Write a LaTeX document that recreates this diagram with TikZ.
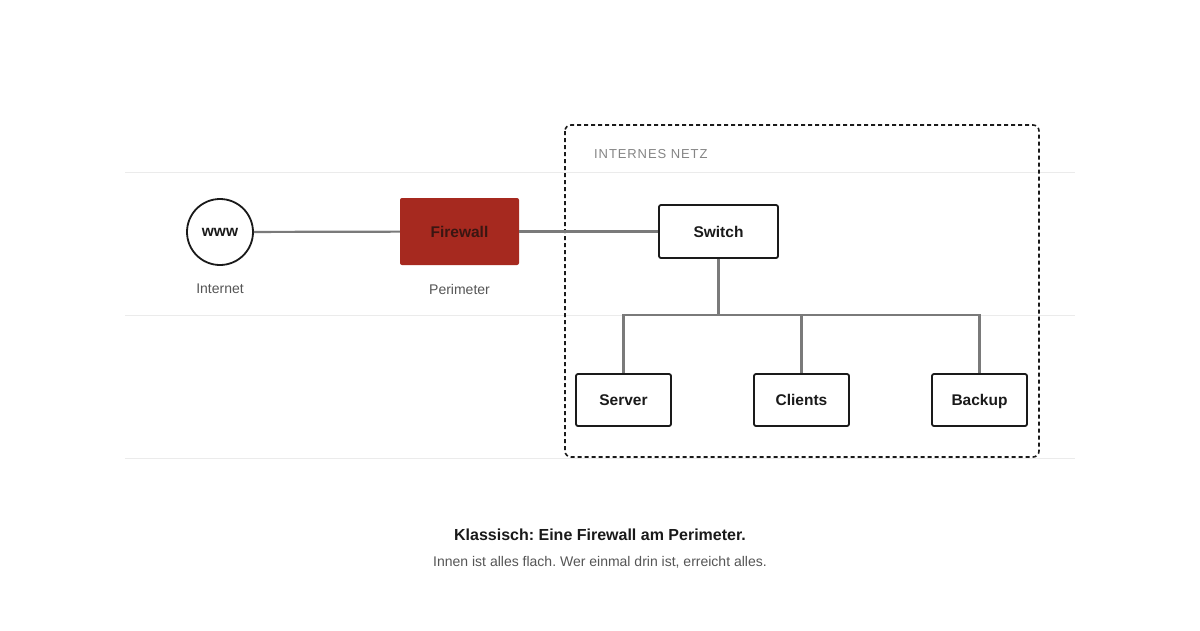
\documentclass[tikz,border=0pt]{standalone}
\usepackage{fontspec}
\setmainfont{Liberation Sans}
\newfontfamily\spacedfont[LetterSpace=7]{Liberation Sans}
\frenchspacing
\definecolor{fwred}{HTML}{A6291F}
\definecolor{fwtext}{HTML}{3A1612}
\definecolor{linegray}{HTML}{7A7A7A}
\definecolor{guide}{HTML}{EBEBEB}
\definecolor{labelgray}{HTML}{555555}
\definecolor{headgray}{HTML}{858585}
\definecolor{ink}{HTML}{1A1A1A}
\tikzset{
  netbox/.style={draw=ink, line width=1.8pt, rounded corners=2pt, fill=white, font=\bfseries\fontsize{15.5}{18}\selectfont, text=ink, text height=11pt, text depth=0pt},
  leafbox/.style={netbox, minimum width=95pt, minimum height=52pt},
  link/.style={draw=linegray, line width=2.2pt},
  sublabel/.style={font=\fontsize{14}{16}\selectfont, text=labelgray},
}
\begin{document}
\begin{tikzpicture}[x=1pt,y=-1pt]
\useasboundingbox (0,0) rectangle (1200,630);
\fill[white] (0,0) rectangle (1200,630);
% guide lines
\foreach \yy in {172,315,458} \draw[guide, line width=0.8pt] (125,\yy) -- (1075,\yy);
% internal net frame
\draw[ink, line width=1.6pt, dash pattern=on 4pt off 3pt, rounded corners=6pt] (565,125) rectangle (1039,457);
\node[anchor=west, inner sep=0pt, font=\spacedfont\fontsize{13}{15}\selectfont, text=headgray] (netlabel) at (594,154) {INTERNES NETZ};
% nodes
\node[circle, draw=ink, line width=1.8pt, minimum size=66pt, inner sep=0pt, fill=white, font=\bfseries\fontsize{15.5}{18}\selectfont, text=ink] (www) at (220,232) {www};
\node[sublabel] (inetlabel) at (220,289) {Internet};
\node[rectangle, fill=fwred, rounded corners=2pt, minimum width=119pt, minimum height=67pt, font=\bfseries\fontsize{15.5}{18}\selectfont, text=fwtext, text height=11pt, text depth=0pt] (fw) at (459.5,231.5) {Firewall};
\node[sublabel] (perlabel) at (459.5,289) {Perimeter};
\node[netbox, minimum width=119pt, minimum height=53pt] (switch) at (718.5,231.5) {Switch};
\coordinate (bus) at (718.5,315);
% links
\draw[link] (www) -- (fw);
\draw[link] (fw) -- (switch);
\draw[link] (switch.south) -- (bus);
\draw[link] (623.5,374) |- (bus);
\draw[link] (979.5,374) |- (bus);
\draw[link] (801.5,374) -- (801.5,315);
% leaf nodes on top of links
\node[leafbox] (server) at (623.5,400) {Server};
\node[leafbox] (clients) at (801.5,400) {Clients};
\node[leafbox] (backup) at (979.5,400) {Backup};
% caption
\node[font=\bfseries\fontsize{16}{18}\selectfont, text=ink] (cap) at (600,535) {Klassisch: Eine Firewall am Perimeter.};
\node[font=\fontsize{14}{16}\selectfont, text=labelgray] (sub) at (600,562) {Innen ist alles flach. Wer einmal drin ist, erreicht alles.};
\end{tikzpicture}
\end{document}
